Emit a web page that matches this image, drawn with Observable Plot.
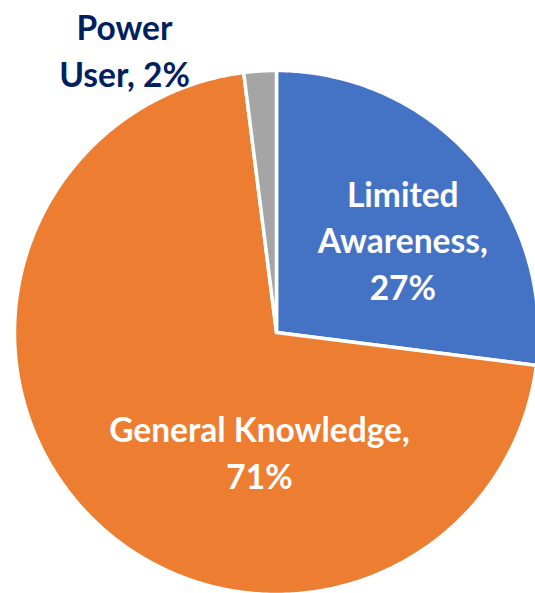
<!DOCTYPE html>
<html>
<head>
<meta charset="utf-8">
<script src="https://cdn.jsdelivr.net/npm/d3@7"></script>
<script src="https://cdn.jsdelivr.net/npm/@observablehq/plot@0.6"></script>
<style>
  html, body { margin: 0; padding: 0; background: #ffffff; }
  #chart svg { display: block; }
</style>
</head>
<body>
<div id="chart"></div>
<script>
// ---- data ----
const categories = ["Limited Awareness", "General Knowledge", "Power User"];
const values = [27, 71, 2];
const labels = ["Limited\nAwareness,\n27%", "General Knowledge,\n71%", "Power\nUser, 2%"];
const colors = ["#4472C4", "#ED7D31", "#A5A5A5"];
const labelColors = ["#ffffff", "#ffffff", "#002060"];

// ---- layout (label anchor points in pie-radius units, y up) ----
const labelX = [0.482, -0.065, -0.58];
const labelY = [0.359, -0.450, 1.085];

// ---- build slices with d3.pie ----
const pie = d3.pie().sort(null).value(d => d.value).startAngle(0).endAngle(2 * Math.PI);
const rows = categories.map((c, i) => ({category: c, value: values[i]}));
const arcs = pie(rows);
const pts = [];
for (const a of arcs) {
  const n = Math.max(4, Math.ceil((a.endAngle - a.startAngle) / (Math.PI / 360)));
  pts.push({category: a.data.category, x: 0, y: 0});
  for (let k = 0; k <= n; k++) {
    const t = a.startAngle + (a.endAngle - a.startAngle) * k / n;
    pts.push({category: a.data.category, x: Math.sin(t), y: Math.cos(t)});
  }
  pts.push({category: a.data.category, x: 0, y: 0});
}
const labelRows = categories.map((c, i) => ({text: labels[i], x: labelX[i], y: labelY[i], color: labelColors[i]}));

const R = 262, W = 535, H = 593, CX = 276, CY = 332;
const chart = Plot.plot({
  width: W,
  height: H,
  margin: 0,
  style: {background: "#ffffff"},
  x: {domain: [-CX / R, (W - CX) / R], axis: null},
  y: {domain: [-(H - CY) / R, CY / R], axis: null},
  color: {domain: categories, range: colors},
  marks: [
    Plot.line(pts, {x: "x", y: "y", z: "category", fill: "category", stroke: "#ffffff", strokeWidth: 3.5, curve: "linear"}),
    Plot.text(labelRows, {
      x: "x", y: "y", text: "text", fill: d => d.color,
      fontFamily: "Lato", fontWeight: "bold", fontSize: 33.5,
      lineHeight: 1.4, textAnchor: "middle", lineAnchor: "middle"
    })
  ]
});
document.getElementById("chart").appendChild(chart);
</script>
</body>
</html>
